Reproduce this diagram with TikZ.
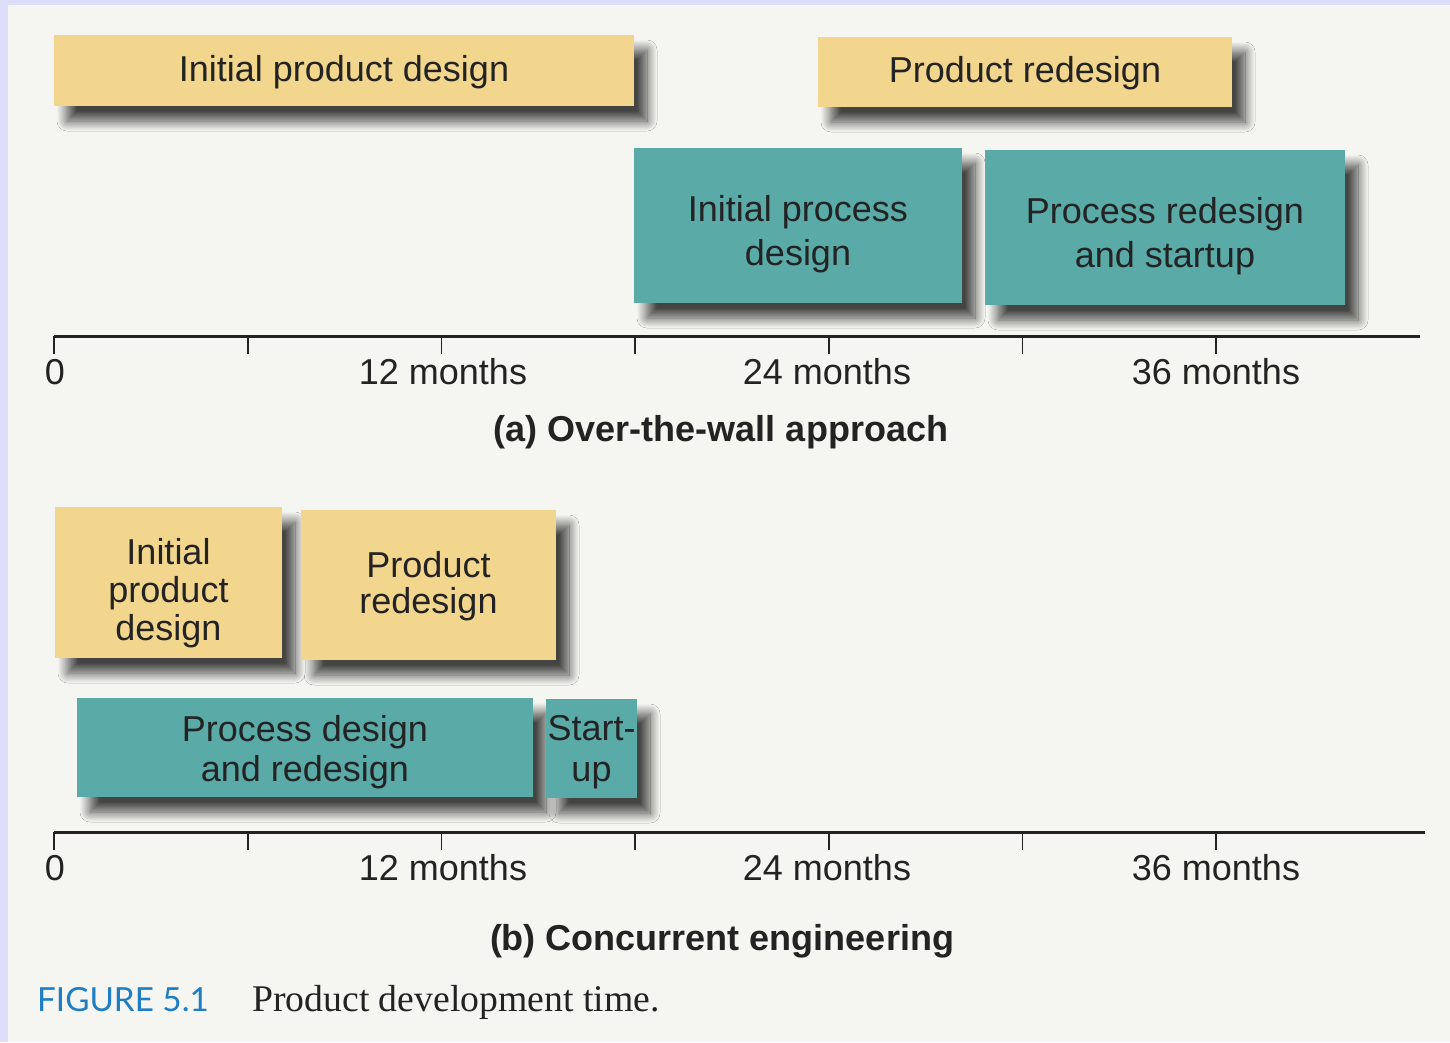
\documentclass[tikz,border=0pt]{standalone}
\usepackage{fontspec}
\setmainfont{Liberation Sans}
\newfontfamily\capserif{Liberation Serif}
\newfontfamily\capsans{Lato}
\usetikzlibrary{shadows.blur}
\definecolor{paper}{RGB}{245,245,241}
\definecolor{framec}{RGB}{222,222,250}
\definecolor{yellowc}{RGB}{242,214,142}
\definecolor{tealc}{RGB}{90,170,168}
\definecolor{ink}{RGB}{35,35,35}
\definecolor{capblue}{RGB}{30,125,195}
\tikzset{
  box/.style={rectangle, inner sep=0pt,
    blur shadow={shadow xshift=13pt, shadow yshift=-15pt, shadow blur radius=10pt, shadow blur steps=16, shadow opacity=72}},
  prodbox/.style={box, fill=yellowc},
  procbox/.style={box, fill=tealc},
  boxtext/.style={inner sep=0pt, align=center, text=ink, font=\fontsize{36}{#1}\selectfont},
  boxtext/.default=42,
  axisline/.style={draw=ink, line width=3pt},
  tickline/.style={draw=ink, line width=1.8pt},
  axlabel/.style={text=ink, font=\fontsize{36}{42}\selectfont, inner sep=0pt},
  partlabel/.style={text=ink, font=\fontsize{36}{42}\selectfont\bfseries, inner sep=0pt},
}
\begin{document}
\begin{tikzpicture}[x=1pt,y=-1pt]
\useasboundingbox (0,0) rectangle (1450,1042);
\fill[framec] (0,0) rectangle (1450,1042);
\fill[paper] (8,5) rectangle (1450,1042);

% (a) over-the-wall
\node[prodbox, minimum width=580pt, minimum height=71pt] (a1) at (344,70.5) {};
\node[boxtext] (a1t) at ([yshift=-2pt]a1.center) {Initial product design};
\node[prodbox, minimum width=414pt, minimum height=70pt] (a2) at (1025,72) {};
\node[boxtext] (a2t) at ([yshift=-1pt]a2.center) {Product redesign};
\node[procbox, minimum width=328pt, minimum height=155pt] (a3) at (798,225.5) {};
\node[boxtext=44] (a3t) at ([yshift=-9pt]a3.center) {Initial process\\design};
\node[procbox, minimum width=360pt, minimum height=155pt] (a4) at (1165,227.5) {};
\node[boxtext=44] (a4t) at ([yshift=-9pt]a4.center) {Process redesign\\and startup};

\coordinate (axa0) at (54,336);
\coordinate (axa1) at (1420,336);
\draw[axisline] (axa0) -- (axa1);
\foreach \k in {0,...,6} {
  \coordinate (ta\k) at ({54+193.7*\k},336);
  \draw[tickline] (ta\k) -- ++(0,18);
}
\node[axlabel] (la0) at (55,372) {0};
\node[axlabel] (la12) at (443,372) {12 months};
\node[axlabel] (la24) at (827,372) {24 months};
\node[axlabel] (la36) at (1216,372) {36 months};
\node[partlabel] (ta) at (721,432) {(a) Over-the-wall approach};

% (b) concurrent
\node[prodbox, minimum width=227pt, minimum height=151pt] (b1) at (168.5,582.5) {};
\node[boxtext=38] (b1t) at ([yshift=-11pt]b1.center) {Initial\\product\\design};
\node[prodbox, minimum width=255pt, minimum height=150pt] (b2) at (428.5,585) {};
\node[boxtext=36] (b2t) at ([yshift=-1pt]b2.center) {Product\\redesign};
\node[procbox, minimum width=456pt, minimum height=99pt] (b3) at (305,747.5) {};
\node[boxtext=40] (b3t) at ([yshift=-5pt]b3.center) {Process design\\and redesign};
\node[procbox, minimum width=91pt, minimum height=99pt] (b4) at (591.5,748.5) {};
\node[boxtext=41] (b4t) at ([yshift=-4pt]b4.center) {Start-\\up};

\coordinate (axb0) at (54,832);
\coordinate (axb1) at (1425,832);
\draw[axisline] (axb0) -- (axb1);
\foreach \k in {0,...,6} {
  \coordinate (tb\k) at ({54+193.7*\k},832);
  \draw[tickline] (tb\k) -- ++(0,18);
}
\node[axlabel] (lb0) at (55,868) {0};
\node[axlabel] (lb12) at (443,868) {12 months};
\node[axlabel] (lb24) at (827,868) {24 months};
\node[axlabel] (lb36) at (1216,868) {36 months};
\node[partlabel] (tb) at (722,941) {(b) Concurrent engineering};

% caption
\node[anchor=west, inner sep=0pt, text=capblue, font=\capsans\fontsize{33.2}{40}\selectfont] (fig) at (37,1000) {FIGURE 5.1};
\node[anchor=west, inner sep=0pt, text=ink, font=\capserif\fontsize{37.7}{44}\selectfont] (cap) at (252,1002) {Product development time.};
\end{tikzpicture}
\end{document}
